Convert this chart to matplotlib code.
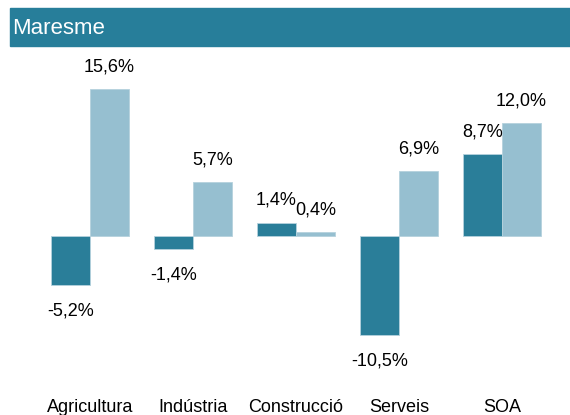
import matplotlib
matplotlib.use("Agg")
import matplotlib.pyplot as plt
from matplotlib import font_manager
from matplotlib.patches import Rectangle
import numpy as np

# data
categories = ["Agricultura", "Indústria", "Construcció", "Serveis", "SOA"]
serie_a = [-5.2, -1.4, 1.4, -10.5, 8.7]
serie_b = [15.6, 5.7, 0.4, 6.9, 12.0]

dark = "#2a7e99"
light = "#96bfd0"

names = {f.name for f in font_manager.fontManager.ttflist}
if "Liberation Sans Narrow" in names:
    fam = "Liberation Sans Narrow"
    fs_val, fs_cat, fs_title = 15.5, 15.5, 19
else:
    fam = "Liberation Sans"
    fs_val, fs_cat, fs_title = 13, 13, 16
plt.rcParams["font.family"] = [fam, "DejaVu Sans"]

W, H = 570, 415
fig = plt.figure(figsize=(W / 100, H / 100), dpi=100)

# title bar
fig.patches.append(Rectangle((10 / W, 1 - 46 / H), 1, 38 / H,
                             transform=fig.transFigure, color="#277e9a", zorder=0))
fig.text(12 / W, 1 - 28 / H, "Maresme", color="white", fontsize=fs_title,
         va="center", ha="left")

top_px = 50
zero_px = 236
scale = 9.4
ax = fig.add_axes([0, 0, 1, (H - top_px) / H])
ax.set_xlim(-90 / 103, (W - 90) / 103)
ax.set_ylim(-(H - zero_px) / scale, (zero_px - top_px) / scale)
ax.axis("off")

x = np.arange(len(categories))
w = 0.379
ax.bar(x - w / 2, serie_a, w, color=dark, edgecolor="#b5d2dd", linewidth=0.6)
ax.bar(x + w / 2, serie_b, w, color=light, edgecolor="#b5d2dd", linewidth=0.6)

def lab(v):
    return f"{v:.1f}%".replace(".", ",")

for xs, vals in [(x - w / 2, serie_a), (x + w / 2, serie_b)]:
    for xi, v in zip(xs, vals):
        off = 16.2 if v >= 0 else -18.7
        ax.annotate(lab(v), (xi, v), xytext=(0, off), textcoords="offset points",
                    ha="center", va="center", fontsize=fs_val, color="black")

for xi, c in zip(x, categories):
    ax.text(xi, -(412 - zero_px) / scale, c, ha="center", va="baseline",
            fontsize=fs_cat, color="black")

fig.savefig("out.png", dpi=100)
